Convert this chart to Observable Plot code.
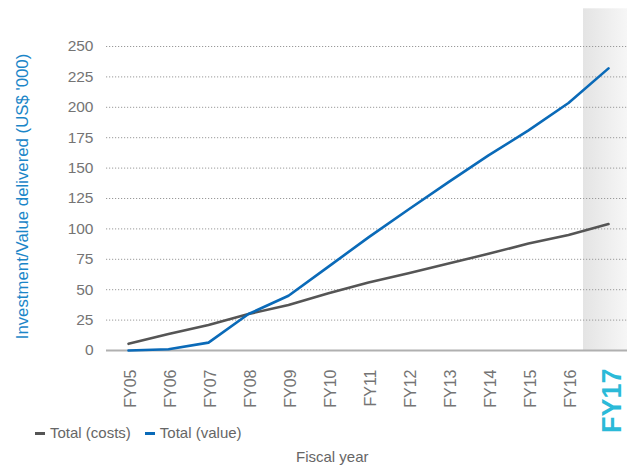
<!DOCTYPE html>
<html>
<head>
<meta charset="utf-8">
<script src="https://cdn.jsdelivr.net/npm/d3@7"></script>
<script src="https://cdn.jsdelivr.net/npm/@observablehq/plot@0.6"></script>
<style>
  html, body { margin: 0; padding: 0; background: #fff; }
  body { width: 627px; height: 466px; position: relative; overflow: hidden; font-family: "Liberation Sans", Arial, sans-serif; }
  #legend { position: absolute; left: 35px; top: 424px; font-size: 15px; line-height: 18px; color: #666; white-space: nowrap; }
  #legend .item { display: inline-block; margin-right: 14px; }
  #legend .sw { display: inline-block; width: 10px; height: 3px; vertical-align: middle; margin-right: 5px; position: relative; top: -1px; }
  #caption { position: absolute; left: 296px; top: 448px; font-size: 15px; line-height: 18px; color: #666; }
</style>
</head>
<body>
<div id="chart"></div>
<div id="legend"></div>
<div id="caption">Fiscal year</div>
<script>
const years = ["FY05","FY06","FY07","FY08","FY09","FY10","FY11","FY12","FY13","FY14","FY15","FY16","FY17"];
const totalCosts = [5.5, 13.5, 21, 30, 37.5, 47, 56, 63.5, 71.5, 79.5, 88, 95, 104];
const totalValue = [0, 1, 6.5, 30, 45, 69, 93, 116, 138.5, 160.5, 181, 203.5, 232];
const yTicks = [0, 25, 50, 75, 100, 125, 150, 175, 200, 225, 250];
const highlightYear = "FY17";
const seriesNames = ["Total (costs)", "Total (value)"];
const seriesColors = ["#555555", "#0a6ab8"];
const yTitle = "Investment/Value delivered (US$ '000)";

const rows = [];
years.forEach((yr, i) => {
  rows.push({i, year: yr, series: seriesNames[0], v: totalCosts[i]});
  rows.push({i, year: yr, series: seriesNames[1], v: totalValue[i]});
});
const hi = years.indexOf(highlightYear);
const band = [{x1: hi - 0.625, x2: hi + 0.475, y1: 0, y2: 281}];

const plot = Plot.plot({
  width: 627,
  height: 432,
  marginLeft: 106,
  marginRight: 0,
  marginTop: 46,
  marginBottom: 82,
  style: {fontFamily: "'Liberation Sans', Arial, sans-serif", background: "transparent"},
  x: {type: "linear", domain: [0, years.length - 1], range: [128, 608]},
  y: {domain: [0, 250]},
  color: {domain: seriesNames, range: seriesColors},
  marks: [
    Plot.rect(band, {x1: "x1", x2: "x2", y1: "y1", y2: "y2", fill: "url(#fy17grad)"}),
    Plot.gridY(yTicks.filter(d => d > 0), {stroke: "#9a9a9a", strokeOpacity: 1, strokeDasharray: "1.2,1.8", strokeWidth: 1}),
    Plot.ruleY([0], {stroke: "#b0b0b0", strokeWidth: 2}),
    Plot.axisY({ticks: yTicks, tickSize: 0, tickPadding: 13, fontSize: 15.5, fill: "#747474", label: null}),
    Plot.axisX({ticks: d3.range(0, years.length).filter(i => i !== hi), tickFormat: i => years[i], tickRotate: -90, tickSize: 0, tickPadding: 19, fontSize: 16, fill: "#747474", label: null, dx: 2}),
    Plot.axisX({ticks: [hi], tickFormat: i => years[i], tickRotate: -90, tickSize: 0, tickPadding: 18, fontSize: 27, fontWeight: "bold", fill: "#2bbad8", label: null, dx: 4}),
    Plot.line(rows, {x: "i", y: "v", z: "series", stroke: "series", strokeWidth: 2.6, curve: "linear"}),
    Plot.text([yTitle], {text: d => d, frameAnchor: "left", textAnchor: "middle", rotate: -90, dx: -84, dy: -2, fill: "#1b86c8", fontSize: 16.8})
  ]
});

const svg = d3.select(plot);
const defs = svg.insert("defs", ":first-child");
const g = defs.append("linearGradient").attr("id", "fy17grad").attr("x1", "0").attr("x2", "1").attr("y1", "0").attr("y2", "0");
g.append("stop").attr("offset", "0%").attr("stop-color", "#e4e4e4");
g.append("stop").attr("offset", "100%").attr("stop-color", "#f6f6f6");

document.getElementById("chart").appendChild(plot);

const legend = document.getElementById("legend");
seriesNames.forEach((name, k) => {
  const it = document.createElement("span");
  it.className = "item";
  const sw = document.createElement("span");
  sw.className = "sw";
  sw.style.background = seriesColors[k];
  it.appendChild(sw);
  it.appendChild(document.createTextNode(name));
  legend.appendChild(it);
});
</script>
</body>
</html>
